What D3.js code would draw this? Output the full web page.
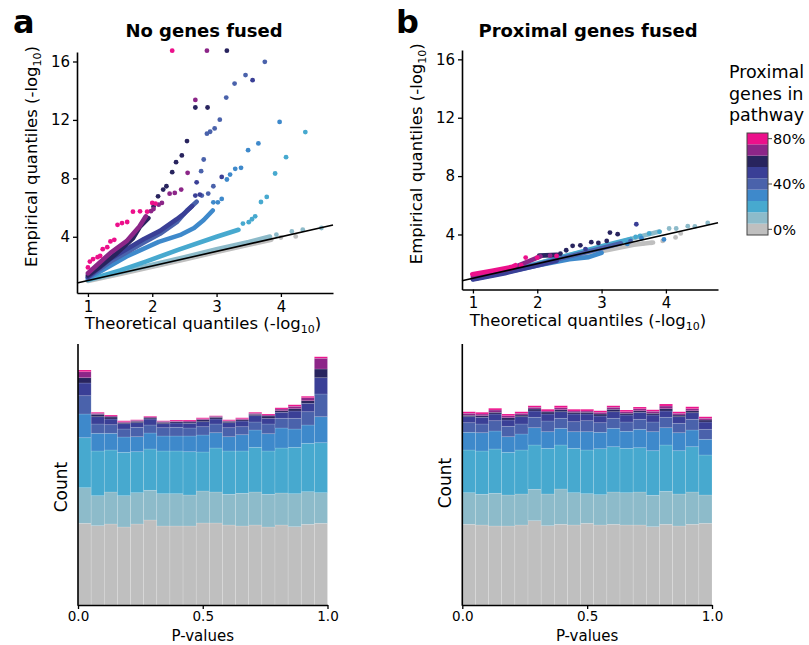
<!DOCTYPE html>
<html>
<head>
<meta charset="utf-8">
<script src="https://cdn.jsdelivr.net/npm/d3@7"></script>
<style>
  body { margin: 0; background: #fff; }
  svg { font-family: "DejaVu Sans", sans-serif; }
</style>
</head>
<body>
<script>
"use strict";

/////// data

// share of proximal genes in pathway, bottom to top of the stack
var layers = ["0%", "10%", "20%", "30%", "40%", "50%", "60%", "70%", "80%"];
var legendTicks = ["0%", "40%", "80%"];
var qqTicksX = [1, 2, 3, 4];
var qqTicksY = [4, 8, 12, 16];
var histTicks = [0, 0.5, 1];

// histogram counts, one row per layer, 19 bins over p = 0..1
var histNone = [
  [327,317,324,312,324,340,316,316,316,328,328,320,316,320,312,320,313,323,327],
  [142,120,128,125,125,119,129,129,124,128,124,123,131,132,131,128,132,130,122],
  [200,179,168,174,164,165,171,171,173,156,176,173,169,179,173,180,186,194,200],
  [95,71,67,61,60,64,60,60,63,68,61,57,65,69,69,80,73,73,104],
  [73,37,34,32,38,32,33,35,32,33,35,36,32,32,39,39,43,53,91],
  [51,29,23,21,18,24,16,17,19,20,20,20,23,25,23,24,29,34,65],
  [21,10,8,4,6,4,6,5,5,8,7,6,5,6,9,6,9,10,35],
  [24,4,4,4,4,4,4,3,4,4,4,2,4,4,4,7,10,12,43],
  [7,4,4,4,2,3,2,4,4,4,2,4,4,4,4,5,6,6,6]
];
var histFused = [
  [323,320,316,316,320,337,317,323,320,327,320,323,320,320,313,323,316,323,327],
  [126,123,131,124,124,126,127,141,129,118,121,129,129,132,126,132,128,129,113],
  [171,173,177,171,176,177,183,176,178,175,184,181,178,177,178,185,173,181,160],
  [71,73,72,62,64,69,66,67,66,73,66,74,68,74,76,69,72,67,63],
  [38,35,41,42,40,42,43,40,40,44,38,40,37,40,39,42,38,43,40],
  [24,27,27,25,29,25,28,26,31,27,27,26,28,28,28,25,26,26,29],
  [6,6,7,9,7,8,8,8,7,7,8,10,7,6,7,9,7,8,8],
  [8,7,9,8,7,7,4,8,5,5,7,8,6,8,8,11,7,8,7],
  [6,7,7,7,6,6,7,8,7,7,6,6,7,7,6,8,6,8,6]
];

// QQ points [theoretical, empirical]; "band" = densely packed run, "dots" = single points
var qqBandNone = [
  [[1.0,0.98],[1.5,1.45],[2.0,1.95],[2.5,2.45],[3.0,2.95],[3.5,3.45],[3.85,3.8]],
  [[1.0,1.02],[1.5,1.55],[2.0,2.08],[2.5,2.6],[3.0,3.15],[3.5,3.65],[3.83,4.02]],
  [[1.0,1.05],[1.5,1.7],[1.9,2.3],[2.4,3.1],[3.0,4.0],[3.34,4.48]],
  [[1.0,1.15],[1.6,2.65],[2.1,3.65],[2.45,4.15],[2.65,4.6],[2.8,5.15],[2.94,5.8]],
  [[1.0,1.2],[1.35,2.3],[1.87,3.6],[2.12,4.2],[2.38,5.0],[2.54,5.8],[2.69,6.4]],
  [[1.0,1.25],[1.35,2.5],[1.87,3.85],[2.12,4.4],[2.38,5.2],[2.5,5.6],[2.62,6.1]],
  [[1.0,1.35],[1.19,1.96],[1.45,2.88],[1.7,3.9],[1.81,4.7],[1.94,5.28]],
  [[1.0,1.5],[1.15,2.1],[1.35,2.9],[1.6,3.7],[1.8,4.7],[1.9,5.4]],
  []
];
var qqDotsNone = [
  [[4.0,3.95],[4.23,4.02]],
  [[3.93,4.14],[4.17,4.36],[4.34,4.48],[4.63,4.6]],
  [[3.41,4.9],[3.5,5.0],[3.55,5.2],[3.6,5.4],[3.69,6.38],[3.78,6.73],[3.91,8.33],[4.08,9.45],[4.38,11.17]],
  [[2.95,6.36],[3.02,6.36],[3.08,6.59],[3.16,7.92],[3.21,8.26],[3.29,8.65],[3.38,8.72],[3.49,9.93],[3.65,10.39],[3.98,11.86]],
  [[2.77,6.82],[2.87,6.96],[2.95,7.46],[2.76,8.49],[2.8,9.29],[2.85,11.06],[2.9,11.19],[2.97,11.42],[3.05,12.02],[3.15,13.53],[3.28,14.49],[3.45,15.07],[3.75,15.98]],
  [[2.67,6.82],[2.74,6.89],[2.69,7.73],[3.08,8.1],[3.56,14.72]],
  [[2.02,6.08],[2.09,6.77],[2.17,7.23],[2.22,7.46],[2.31,8.42],[2.37,9.11],[2.46,9.57],[2.54,10.55],[2.67,12.85],[2.86,12.85],[3.16,16.74]],
  [[1.98,5.75],[2.02,5.9],[2.1,6.2],[2.15,6.32],[2.27,6.95],[2.35,7.0],[2.45,7.23],[2.55,8.38],[2.67,13.37],[2.85,16.74]],
  [[1.0,1.9],[1.03,2.3],[1.08,2.47],[1.15,2.6],[1.19,2.69],[1.23,3.15],[1.3,3.29],[1.35,3.68],[1.41,3.79],[1.46,4.82],[1.53,4.94],[1.61,5.01],[1.7,5.72],[1.81,5.74],[1.92,5.72],[2.0,6.32],[2.05,6.27],[2.31,16.74]]
];

var qqBandFused = [
  [[1.0,0.97],[1.5,1.45],[2.0,1.93],[2.5,2.4],[3.0,2.85],[3.5,3.3],[3.8,3.45]],
  [[1.0,1.0],[1.5,1.5],[2.0,2.02],[2.5,2.6],[3.0,3.1],[3.5,3.75],[3.9,4.2]],
  [[1.0,1.0],[1.5,1.48],[2.0,2.0],[2.5,2.6],[3.0,3.2],[3.45,3.7]],
  [[1.0,0.95],[1.5,1.4],[2.0,1.88],[2.5,2.3],[2.8,2.45],[3.0,2.75]],
  [[1.0,0.95],[1.5,1.42],[2.0,1.95],[2.5,2.5],[3.0,3.05],[3.3,3.4]],
  [[1.0,0.92],[1.5,1.35],[2.0,1.88],[2.3,2.2]],
  [[2.03,2.55],[2.31,2.6]],
  [[1.0,1.12],[1.6,1.68],[2.05,2.5]],
  [[0.99,1.28],[1.3,1.52],[1.61,1.78],[1.66,1.89]]
];
var qqDotsFused = [
  [[3.64,3.38],[3.77,3.42],[3.95,3.56],[4.15,3.8],[4.23,4.07]],
  [[4.05,4.41],[4.16,4.41],[4.34,4.57],[4.45,4.55],[4.65,4.79]],
  [[3.53,3.83],[3.6,3.9],[3.74,4.07],[3.9,4.18]],
  [[3.4,3.35],[3.62,3.75],[3.97,3.66]],
  [[3.45,3.55]],
  [[2.75,3.0],[3.54,4.7]],
  [[2.36,2.69],[2.45,2.92],[2.55,3.22],[2.67,3.26],[2.84,3.47],[2.95,3.42],[3.08,3.56],[3.13,4.13],[3.25,4.02]],
  [[2.2,2.55]],
  [[1.75,1.9],[1.82,2.42],[2.0,2.42],[2.3,2.53]]
];

/////// styles

var colours = ["#bfbfbf", "#8dbbca", "#47a9cf", "#3e89cb", "#4a62ab", "#3a3f96", "#28245e", "#8c2688", "#ec108b"];

var width = 809, height = 645;

var svg = d3.select("body").append("svg")
    .attr("width", width)
    .attr("height", height);

function axisTitle(g, x, y, rotate) {
  return g.append("text")
      .attr("transform", "translate(" + x + "," + y + ")" + (rotate ? " rotate(-90)" : ""))
      .attr("text-anchor", "middle")
      .style("font-size", "16.5px");
}

function addQuantLabel(t, word) {
  t.append("tspan").text(word + " quantiles (-log");
  t.append("tspan").attr("dy", 4).style("font-size", "11px").text("10");
  t.append("tspan").attr("dy", -4).text(")");
}

///////// QQ panel
function qqPanel(opt) {
  var x = d3.scaleLinear().domain([0.83, 4.81]).range([opt.left, opt.right]);
  var y = d3.scaleLinear().domain(opt.ydom).range([opt.bottom, opt.top]);
  var g = svg.append("g");

  var line = d3.line().x(d => x(d[0])).y(d => y(d[1]));

  layers.forEach((name, i) => {
    if (opt.band[i].length)
      g.append("path")
        .attr("d", line(opt.band[i]))
        .attr("fill", "none")
        .attr("stroke", colours[i])
        .attr("stroke-width", 4.6)
        .attr("stroke-linecap", "round")
        .attr("stroke-linejoin", "round");
    g.selectAll(null)
      .data(opt.dots[i])
      .enter().append("circle")
        .attr("cx", d => x(d[0]))
        .attr("cy", d => y(d[1]))
        .attr("r", 2.4)
        .attr("fill", colours[i]);
  });

  // y = x reference
  g.append("line")
    .attr("x1", x(0.83)).attr("y1", y(0.83))
    .attr("x2", x(4.81)).attr("y2", y(4.81))
    .attr("stroke", "#000").attr("stroke-width", 1.6);

  var xa = g.append("g")
    .attr("transform", "translate(0," + opt.bottom + ")")
    .call(d3.axisBottom(x).tickValues(qqTicksX).tickFormat(d3.format("d")).tickSize(4).tickPadding(4).tickSizeOuter(0));
  var ya = g.append("g")
    .attr("transform", "translate(" + opt.left + ",0)")
    .call(d3.axisLeft(y).tickValues(qqTicksY).tickFormat(d3.format("d")).tickSize(4).tickPadding(3).tickSizeOuter(0));
  [xa, ya].forEach(a => {
    a.select(".domain").attr("stroke-width", 1.6);
    a.selectAll(".tick line").attr("stroke-width", 1.3);
    a.selectAll("text").style("font-size", "15px").attr("fill", "#000").style("font-family", "DejaVu Sans");
  });

  var tx = axisTitle(g, (opt.left + opt.right) / 2 - 2, opt.bottom + 36, false);
  addQuantLabel(tx, "Theoretical");
  var ty = axisTitle(g, opt.left - 40, (opt.top + opt.bottom) / 2 - 16, true);
  addQuantLabel(ty, "Empirical");

  g.append("text")
    .attr("x", opt.titleX).attr("y", 37)
    .attr("text-anchor", "middle")
    .style("font-size", "18px").style("font-weight", "bold")
    .text(opt.title);
  g.append("text")
    .attr("x", opt.letterX).attr("y", 33)
    .style("font-size", "32px").style("font-weight", "bold")
    .text(opt.letter);
}

qqPanel({left: 77, right: 333, top: 52, bottom: 293, ydom: [0.15, 16.65],
  band: qqBandNone, dots: qqDotsNone, title: "No genes fused", titleX: 204, letter: "a", letterX: 13});
qqPanel({left: 462, right: 718, top: 50, bottom: 289.5, ydom: [0.23, 16.64],
  band: qqBandFused, dots: qqDotsFused, title: "Proximal genes fused", titleX: 588, letter: "b", letterX: 396});

///////// histograms
function histPanel(opt) {
  var nb = opt.counts[0].length;
  var rows = d3.range(nb).map(b => {
    var r = {bin: b};
    opt.counts.forEach((c, k) => { r[k] = c[b]; });
    return r;
  });
  var series = d3.stack().keys(d3.range(layers.length))(rows);

  var xp = d3.scaleLinear().domain([0, 1]).range([opt.left, opt.right]);
  var xb = d3.scaleBand().domain(d3.range(nb)).range([opt.left, opt.right]).padding(0);
  var y = d3.scaleLinear().domain([0, 1044]).range([605, 344]);

  var g = svg.append("g");
  g.selectAll("g.layer")
    .data(series)
    .enter().append("g")
      .attr("fill", (d, i) => colours[i])
    .selectAll("rect")
    .data(d => d)
    .enter().append("rect")
      .attr("x", d => xb(d.data.bin))
      .attr("width", xb.bandwidth())
      .attr("y", d => y(d[1]))
      .attr("height", d => y(d[0]) - y(d[1]))
      .attr("stroke", "#ffffff")
      .attr("stroke-opacity", 0.25)
      .attr("stroke-width", 0.6);

  var xa = g.append("g")
    .attr("transform", "translate(0,605)")
    .call(d3.axisBottom(xp).tickValues(histTicks).tickFormat(d3.format(".1f")).tickSize(4).tickPadding(2).tickSizeOuter(0));
  xa.select(".domain").attr("stroke-width", 1.6);
  xa.selectAll(".tick line").attr("stroke-width", 1.3);
  xa.selectAll("text").style("font-size", "13.5px").attr("fill", "#000").style("font-family", "DejaVu Sans");

  g.append("line")
    .attr("x1", opt.left).attr("x2", opt.left)
    .attr("y1", 344).attr("y2", 605.8)
    .attr("stroke", "#000").attr("stroke-width", 1.6);

  g.append("text")
    .attr("x", (opt.left + opt.right) / 2).attr("y", 641)
    .attr("text-anchor", "middle")
    .style("font-size", "15px")
    .text("P-values");
  g.append("text")
    .attr("transform", "translate(" + (opt.left - 11) + "," + opt.countY + ") rotate(-90)")
    .attr("text-anchor", "middle")
    .style("font-size", "17px")
    .text("Count");
}

histPanel({left: 78, right: 327.5, counts: histNone, countY: 487});
histPanel({left: 462.3, right: 712, counts: histFused, countY: 483});

///////// legend
var lg = svg.append("g");
["Proximal", "genes in", "pathway"].forEach((s, i) => {
  lg.append("text")
    .attr("x", 729).attr("y", 78 + i * 21.5)
    .style("font-size", "17.5px")
    .text(s);
});

var ly = d3.scaleBand().domain(d3.range(layers.length).reverse()).range([133, 235]);
lg.selectAll("rect")
  .data(layers)
  .enter().append("rect")
    .attr("x", 747).attr("width", 21)
    .attr("y", (d, i) => ly(i))
    .attr("height", ly.bandwidth())
    .attr("fill", (d, i) => colours[i]);
lg.append("rect")
  .attr("x", 747).attr("y", 133).attr("width", 21).attr("height", 102)
  .attr("fill", "none").attr("stroke", "#444").attr("stroke-width", 1);

legendTicks.forEach(t => {
  var i = layers.indexOf(t);
  var yy = ly(i) + ly.bandwidth() / 2;
  lg.append("line")
    .attr("x1", 768).attr("x2", 772).attr("y1", yy).attr("y2", yy)
    .attr("stroke", "#444").attr("stroke-width", 1);
  lg.append("text")
    .attr("x", 773).attr("y", yy)
    .attr("dy", "0.36em")
    .style("font-size", "14.5px")
    .text(t);
});
</script>
</body>
</html>
